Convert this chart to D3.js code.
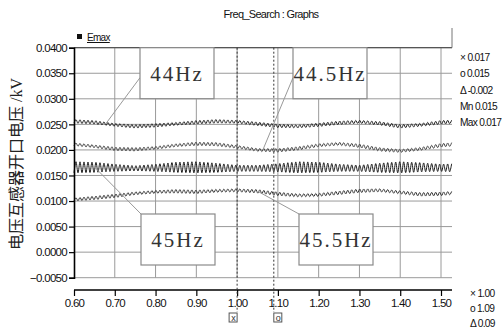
<!DOCTYPE html>
<html>
<head>
<meta charset="utf-8">
<script src="https://cdn.jsdelivr.net/npm/d3@7"></script>
<style>
  body { margin: 0; background: #fff; }
  svg { display: block; }
  .nar { font-family: "Liberation Sans", Arial, sans-serif; letter-spacing: -0.7px; }
</style>
</head>
<body>
<div id="chart"></div>
<script>
const knots = [0.60, 0.65, 0.70, 0.75, 0.80, 0.85, 0.90, 0.95, 1.00, 1.05, 1.10, 1.15, 1.20, 1.25, 1.30, 1.35, 1.40, 1.45, 1.50, 1.53]

// centre line of each trace (kV)
const mid44 = [0.0256, 0.0254, 0.0249, 0.0246, 0.0248, 0.0251, 0.0254, 0.0256, 0.0255, 0.0251, 0.0247, 0.0246, 0.0249, 0.0253, 0.0255, 0.0252, 0.0246, 0.0249, 0.0254, 0.0255]
const mid445 = [0.0211, 0.0207, 0.0202, 0.0201, 0.0204, 0.0209, 0.0212, 0.0211, 0.0206, 0.0200, 0.0199, 0.0203, 0.0209, 0.0212, 0.0208, 0.0201, 0.0198, 0.0202, 0.0209, 0.0211]
const mid45 = [0.0166, 0.0166, 0.0165, 0.0164, 0.0165, 0.0166, 0.0166, 0.0165, 0.0164, 0.0164, 0.0165, 0.0166, 0.0166, 0.0165, 0.0164, 0.0165, 0.0166, 0.0166, 0.0165, 0.0165]
const mid455 = [0.0103, 0.0106, 0.0110, 0.0115, 0.0118, 0.0119, 0.0118, 0.0120, 0.0121, 0.0119, 0.0114, 0.0111, 0.0112, 0.0116, 0.0120, 0.0121, 0.0117, 0.0113, 0.0114, 0.0116]

// half peak-to-peak of the fast ripple (kV)
const amp44 = [0.00035, 0.00035, 0.0003, 0.00035, 0.00035, 0.0003, 0.00035, 0.00035, 0.0003, 0.00035, 0.00035, 0.0003, 0.00035, 0.00035, 0.0003, 0.00035, 0.00035, 0.0003, 0.00035, 0.00035]
const amp445 = [0.0003, 0.0003, 0.00035, 0.00035, 0.0003, 0.0003, 0.00035, 0.00035, 0.0003, 0.0003, 0.00035, 0.00035, 0.0003, 0.0003, 0.00035, 0.00035, 0.0003, 0.0003, 0.00035, 0.00035]
const amp45 = [0.0011, 0.0010, 0.0007, 0.0005, 0.0007, 0.0010, 0.0011, 0.0009, 0.0006, 0.0006, 0.0008, 0.0011, 0.0010, 0.0007, 0.0006, 0.0009, 0.0011, 0.0009, 0.0007, 0.0008]
const amp455 = [0.0003, 0.00035, 0.00035, 0.0003, 0.0003, 0.00035, 0.00035, 0.0003, 0.0003, 0.00035, 0.00035, 0.0003, 0.0003, 0.00035, 0.00035, 0.0003, 0.0003, 0.00035, 0.00035, 0.0003]

const ripplePeriod = 0.0098   // s, visible ripple period

const xTicks = [0.60, 0.70, 0.80, 0.90, 1.00, 1.10, 1.20, 1.30, 1.40, 1.50]
const yTicks = [-0.005, 0.000, 0.005, 0.010, 0.015, 0.020, 0.025, 0.030, 0.035, 0.040]

const cursorX = 1.00
const cursorO = 1.09

const readoutTop = ['\u00d7 0.017', 'o 0.015', '\u0394 -0.002', 'Mn 0.015', 'Max 0.017']
const readoutBottom = ['\u00d7 1.00', 'o 1.09', '\u0394 0.09']

const labels = ['44Hz', '44.5Hz', '45Hz', '45.5Hz']
const labelAt = [0.678, 1.063, 0.651, 1.051]   // time where each leader line meets its trace

const width = 502
const height = 333

const svg = d3.select('#chart')
    .append('svg')
    .attr('width', width)
    .attr('height', height)

const x = d3.scaleLinear().domain([0.6, 1.5]).range([74, 441])
const y = d3.scaleLinear().domain([-0.005, 0.04]).range([277.7, 47.7])
const plotRight = 452

const traces = [
    { mid: mid44, amp: amp44, color: '#222', w: 1 },
    { mid: mid445, amp: amp445, color: '#444', w: 1 },
    { mid: mid45, amp: amp45, color: '#1a1a1a', w: 1 },
    { mid: mid455, amp: amp455, color: '#333', w: 1 }
]

// grid
const grid = svg.append('g')
grid.selectAll('.hg')
    .data(yTicks)
    .join('line')
    .attr('x1', x(0.6)).attr('x2', plotRight)
    .attr('y1', d => y(d)).attr('y2', d => y(d))
    .attr('stroke', '#9a9a9a')
    .attr('stroke-width', 1)
grid.selectAll('.vg')
    .data(xTicks.slice(1))
    .join('line')
    .attr('x1', d => x(d)).attr('x2', d => x(d))
    .attr('y1', y(0.04)).attr('y2', y(-0.005))
    .attr('stroke', '#9a9a9a')
    .attr('stroke-width', 1)

// top frame
svg.append('line')
    .attr('x1', x(0.6)).attr('x2', plotRight)
    .attr('y1', y(0.04)).attr('y2', y(0.04))
    .attr('stroke', '#555').attr('stroke-width', 1.2)
svg.append('line')
    .attr('x1', plotRight).attr('x2', plotRight)
    .attr('y1', 28).attr('y2', y(0.04))
    .attr('stroke', '#777').attr('stroke-width', 1)

// traces
const line = d3.line()
    .x(d => x(d[0]))
    .y(d => y(d[1]))
    .curve(d3.curveCatmullRom)

traces.forEach(tr => {
    const m = d3.scaleLinear().domain(knots).range(tr.mid)
    const a = d3.scaleLinear().domain(knots).range(tr.amp)
    const pts = d3.range(0.6, 1.527, ripplePeriod / 2).map((t, i) =>
        [t, m(t) + (i % 2 ? a(t) : -a(t))])
    svg.append('path')
        .datum(pts)
        .attr('fill', 'none')
        .attr('stroke', tr.color)
        .attr('stroke-width', tr.w)
        .attr('d', line)
})

// y axis
const yAxis = svg.append('g')
    .attr('transform', `translate(${x(0.6)},0)`)
    .call(d3.axisLeft(y).tickValues(yTicks).tickFormat(d3.format('.4f')).tickSize(5).tickPadding(2))
yAxis.select('.domain').attr('stroke', '#000').attr('stroke-width', 1.6)
yAxis.selectAll('.tick line').attr('stroke', '#000').attr('stroke-width', 1.2)
yAxis.selectAll('text').attr('class', 'nar').attr('font-size', 11.5).attr('fill', '#111')

// x axis
const xAxis = svg.append('g')
    .attr('transform', 'translate(0,290)')
    .call(d3.axisBottom(x).tickValues(xTicks).tickFormat(d3.format('.2f')).tickSize(6).tickPadding(3).tickSizeOuter(0))
xAxis.select('.domain').attr('stroke', '#000').attr('stroke-width', 1.6)
    .attr('d', `M${x(0.6)},0H${plotRight}`)
xAxis.selectAll('.tick line').attr('stroke', '#000').attr('stroke-width', 1.2)
xAxis.selectAll('text').attr('class', 'nar').attr('font-size', 11.5).attr('fill', '#111')

// cursors
const cursors = [{ t: cursorX, sym: 'x', dx: -8 }, { t: cursorO, sym: 'o', dx: 0 }]
cursors.forEach(c => {
    svg.append('line')
        .attr('x1', x(c.t)).attr('x2', x(c.t))
        .attr('y1', y(0.04)).attr('y2', 312)
        .attr('stroke', '#333').attr('stroke-width', 1)
        .attr('stroke-dasharray', '2,2')
    svg.append('rect')
        .attr('x', x(c.t) + c.dx).attr('y', 313)
        .attr('width', 8).attr('height', 9)
        .attr('fill', '#fff').attr('stroke', '#555').attr('stroke-width', 1)
    svg.append('text')
        .attr('class', 'nar')
        .attr('x', x(c.t) + c.dx + 4).attr('y', 321)
        .attr('text-anchor', 'middle')
        .attr('font-size', 9).attr('fill', '#333')
        .text(c.sym)
})

// annotation boxes with leader lines
const boxes = [
    { x0: 140, y0: 47.7, trace: 0 },
    { x0: 293, y0: 47.7, trace: 1 },
    { x0: 141, y0: 214, trace: 2 },
    { x0: 299, y0: 214, trace: 3 }
]
boxes.forEach((b, i) => {
    const m = d3.scaleLinear().domain(knots).range(traces[b.trace].mid)
    const ty = i < 2 ? b.y0 + 30 : b.y0
    svg.append('line')
        .attr('x1', b.x0).attr('y1', ty)
        .attr('x2', x(labelAt[i])).attr('y2', y(m(labelAt[i])))
        .attr('stroke', '#999').attr('stroke-width', 1)
    svg.append('rect')
        .attr('x', b.x0).attr('y', b.y0)
        .attr('width', 74).attr('height', 51)
        .attr('fill', '#fff').attr('stroke', '#8a8a8a').attr('stroke-width', 1.2)
    svg.append('text')
        .attr('x', b.x0 + 37).attr('y', b.y0 + 33)
        .attr('text-anchor', 'middle')
        .attr('font-family', '"Liberation Serif", "DejaVu Serif", serif')
        .attr('font-size', 21)
        .attr('letter-spacing', 2)
        .attr('fill', '#333')
        .text(labels[i])
})

// title
svg.append('text')
    .attr('class', 'nar')
    .attr('x', 271).attr('y', 18)
    .attr('text-anchor', 'middle')
    .attr('font-size', 11).attr('fill', '#111')
    .text('Freq_Search : Graphs')

// legend
svg.append('rect')
    .attr('x', 77).attr('y', 34).attr('width', 5).attr('height', 5)
    .attr('fill', '#111')
svg.append('text')
    .attr('class', 'nar')
    .attr('x', 87).attr('y', 41)
    .attr('font-size', 10).attr('fill', '#111')
    .attr('text-decoration', 'underline')
    .text('Emax')

// y label
svg.append('text')
    .attr('transform', 'translate(22,164) rotate(-90)')
    .attr('text-anchor', 'middle')
    .attr('font-family', '"Liberation Serif", "Noto Sans CJK SC", serif')
    .attr('font-size', 16).attr('fill', '#222')
    .text('电压互感器开口电压 /kV')

// cursor readouts
svg.append('g')
    .selectAll('text')
    .data(readoutTop)
    .join('text')
    .attr('class', 'nar')
    .attr('x', 460).attr('y', (d, i) => 61 + i * 16.3)
    .attr('font-size', 10.2).attr('fill', '#111')
    .text(d => d)
svg.append('g')
    .selectAll('text')
    .data(readoutBottom)
    .join('text')
    .attr('class', 'nar')
    .attr('x', 470).attr('y', (d, i) => 297 + i * 15)
    .attr('font-size', 10.2).attr('fill', '#111')
    .text(d => d)
</script>
</body>
</html>
